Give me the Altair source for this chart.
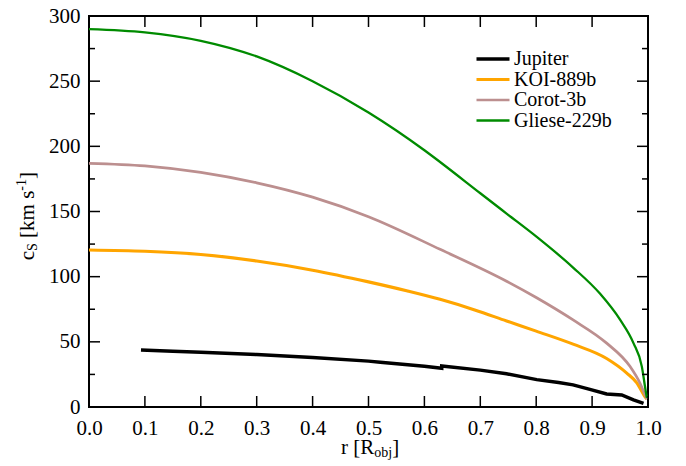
import altair as alt
import pandas as pd

# ---------------- data ----------------
names = ["Jupiter", "KOI-889b", "Corot-3b", "Gliese-229b"]
colors = ["#000000", "#FFA500", "#BC8F8F", "#008B00"]
line_widths = [3.5, 2.3, 2.3, 2.3]

jup_r = [0.093, 0.15, 0.2, 0.3, 0.4, 0.5, 0.521, 0.6, 0.631, 0.631, 0.7, 0.747,
         0.801, 0.84, 0.866, 0.896, 0.926, 0.953, 0.974, 0.992]
jup_cs = [43.7, 42.8, 42.0, 40.2, 38.0, 35.2, 34.4, 31.3, 29.7, 31.5, 28.3, 25.5,
          21.0, 18.8, 17.0, 13.5, 10.0, 9.2, 5.4, 2.8]

koi_r = [0.0, 0.1, 0.2, 0.3, 0.4, 0.5, 0.57, 0.628, 0.69, 0.747, 0.8, 0.866, 0.926,
         0.962, 0.98, 0.993, 0.998]
koi_cs = [120.5, 119.5, 117.0, 112.0, 105.0, 96.0, 89.0, 82.6, 74.5, 66.0, 58.2, 48.2,
          37.2, 26.0, 18.5, 9.0, 6.0]

cor_r = [0.0, 0.1, 0.2, 0.3, 0.4, 0.5, 0.628, 0.747, 0.8, 0.866, 0.926, 0.968, 0.986,
         0.995, 0.998]
cor_cs = [187.0, 185.0, 180.0, 172.0, 161.0, 146.0, 121.0, 96.5, 84.0, 66.8, 49.0, 31.0,
          18.0, 9.0, 6.0]

gli_r = [0.0, 0.1, 0.2, 0.3, 0.4, 0.5, 0.6, 0.628, 0.7, 0.747, 0.801, 0.866, 0.914,
         0.95, 0.974, 0.989, 0.996, 0.998]
gli_cs = [290.0, 287.5, 281.0, 269.0, 250.0, 226.0, 197.0, 188.0, 164.0, 148.4, 130.5,
          107.0, 87.0, 67.0, 49.0, 31.0, 12.0, 7.0]

x_ticks = [0.0, 0.1, 0.2, 0.3, 0.4, 0.5, 0.6, 0.7, 0.8, 0.9, 1.0]
y_ticks = [0, 50, 100, 150, 200, 250, 300]
y_minor = [25, 75, 125, 175, 225, 275]

# ---------------- tables ----------------
rows = []
for name, rs, vs in [("Jupiter", jup_r, jup_cs), ("KOI-889b", koi_r, koi_cs),
                     ("Corot-3b", cor_r, cor_cs), ("Gliese-229b", gli_r, gli_cs)]:
    for i, (r, v) in enumerate(zip(rs, vs)):
        rows.append({"name": name, "r": r, "cs": v, "i": i})
df = pd.DataFrame(rows)

W, H = 559, 391
FONT = "Liberation Serif, Times New Roman, serif"
FS = 21
SUB = 14

x_enc = alt.X("r:Q", scale=alt.Scale(domain=[0, 1], nice=False),
              axis=alt.Axis(values=x_ticks, format=".1f", title=None, ticks=False, tickSize=0,
                            domain=False, grid=False, labelFont=FONT, labelFontSize=FS,
                            labelPadding=10, labelFlush=False, labelOverlap=False,
                            labelColor="black"))
y_enc = alt.Y("cs:Q", scale=alt.Scale(domain=[0, 300], nice=False),
              axis=alt.Axis(values=y_ticks, title=None, ticks=False, tickSize=0,
                            domain=False, grid=False, labelFont=FONT, labelFontSize=FS,
                            labelPadding=9, labelFlush=False, labelOverlap=False,
                            labelColor="black"))

legend = alt.Legend(orient="none", legendX=394, legendY=33, title=None,
                    labelFont=FONT, labelFontSize=20, labelColor="black",
                    symbolType="M-3,0L3,0", symbolSize=121, labelOffset=11,
                    rowPadding=0.5, padding=0)
color_enc = alt.Color("name:N", scale=alt.Scale(domain=names, range=colors), legend=legend)
sw_enc = alt.StrokeWidth("name:N", scale=alt.Scale(domain=names, range=line_widths), legend=legend)

jup_line = alt.Chart(df[df["name"] == "Jupiter"]).mark_line(interpolate="linear").encode(
    x=x_enc, y=y_enc, color=color_enc, strokeWidth=sw_enc, order=alt.Order("i:Q"))
other_lines = alt.Chart(df[df["name"] != "Jupiter"]).mark_line(interpolate="monotone").encode(
    x=x_enc, y=y_enc, color=color_enc, strokeWidth=sw_enc, order=alt.Order("i:Q"))

# inward ticks
xt = pd.DataFrame({"r": x_ticks})
yt = pd.DataFrame({"cs": y_ticks})
ym = pd.DataFrame({"cs": y_minor})
TL, TM = 11, 6
tick_style = dict(color="black", strokeWidth=1.5)
bottom_ticks = alt.Chart(xt).mark_rule(**tick_style).encode(x=x_enc, y=alt.value(H), y2=alt.value(H - TL))
top_ticks = alt.Chart(xt).mark_rule(**tick_style).encode(x=x_enc, y=alt.value(0), y2=alt.value(TL))
left_major = alt.Chart(yt).mark_rule(**tick_style).encode(y=y_enc, x=alt.value(0), x2=alt.value(TL))
right_major = alt.Chart(yt).mark_rule(**tick_style).encode(y=y_enc, x=alt.value(W), x2=alt.value(W - TL))
left_minor = alt.Chart(ym).mark_rule(**tick_style).encode(y=y_enc, x=alt.value(0), x2=alt.value(TM))
right_minor = alt.Chart(ym).mark_rule(**tick_style).encode(y=y_enc, x=alt.value(W), x2=alt.value(W - TM))

# axis titles built from pieces (Times metrics)
one = pd.DataFrame({"a": [0]})


def piece(text, x, y, size, angle=0):
    return alt.Chart(one).mark_text(text=text, font=FONT, fontSize=size, align="left",
                                    baseline="alphabetic", angle=angle, color="black").encode(
        x=alt.value(x), y=alt.value(y))


# x title: r [R_obj]
xb = 437.6
x0 = 252
w1 = 1.583 * FS
w2 = 1.278 * SUB
xt1 = piece("r [R", x0, xb, FS)
xt2 = piece("obj", x0 + w1, xb + 3.5, SUB)
xt3 = piece("]", x0 + w1 + w2, xb, FS)

# y title: c_S [km s^-1] rotated
yb = -55.5
y0 = 244.3
c_w = 0.444 * FS
s_w = 0.556 * SUB
sp_w = 0.25 * FS
mid_w = 2.25 * FS
sup_w = 0.833 * SUB
yt1 = piece("c", yb, y0, FS, 270)
yt2 = piece("S", yb + 3.5, y0 - c_w, SUB, 270)
yt3 = piece("[km s", yb, y0 - c_w - s_w - sp_w, FS, 270)
yt4 = piece("-1", yb - 8, y0 - c_w - s_w - sp_w - mid_w, SUB, 270)
yt5 = piece("]", yb, y0 - c_w - s_w - sp_w - mid_w - sup_w, FS, 270)

chart = alt.layer(
    other_lines, jup_line,
    bottom_ticks, top_ticks, left_major, right_major, left_minor, right_minor,
    xt1, xt2, xt3, yt1, yt2, yt3, yt4, yt5,
).properties(
    width=W, height=H,
    autosize=alt.AutoSizeParams(type="none"),
    padding={"left": 81, "top": 8, "right": 30, "bottom": 58},
).configure(font=FONT).configure_axis(labelFont=FONT).configure_legend(labelFont=FONT).configure_view(
    stroke="black", strokeWidth=2)

chart.save("out.html", embed_options={"renderer": "svg", "actions": False})
